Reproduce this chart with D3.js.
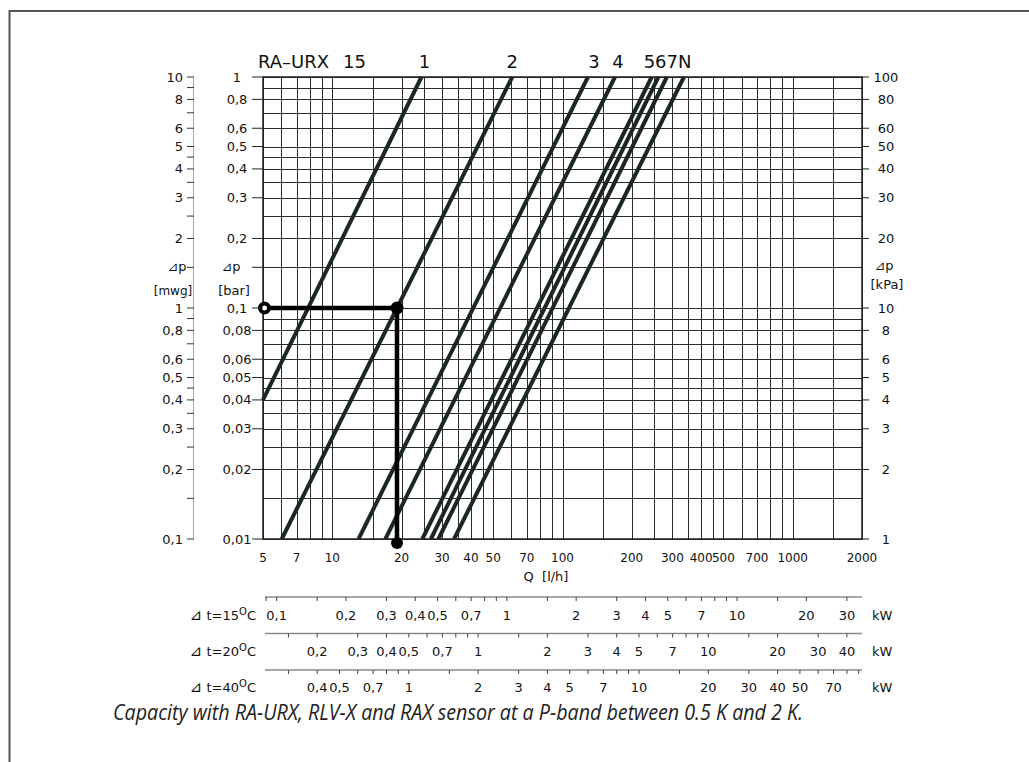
<!DOCTYPE html>
<html><head><meta charset="utf-8">
<script src="https://cdn.jsdelivr.net/npm/d3@7"></script>
<style>body{margin:0;background:#fff} svg{display:block}</style>
</head><body>
<svg id="c" width="1029" height="762"></svg>
<script>
// ---- data ----
const presetNames = ["1","2","3","4","5","6","7","N"];
// each characteristic: [Q l/h, Δp bar] start and end points
const line1 = [[5, 0.04], [24.4, 1]];
const line2 = [[6.03, 0.01], [60.5, 1]];
const line3 = [[13.0, 0.01], [129, 1]];
const line4 = [[17.0, 0.01], [169, 1]];
const line5 = [[24.6, 0.01], [244, 1]];
const line6 = [[26.8, 0.01], [261, 1]];
const line7 = [[28.9, 0.01], [284, 1]];
const lineN = [[33.8, 0.01], [337, 1]];
const exampleLine = [[5, 0.1], [19.1, 0.1], [19.1, 0.0096]];

const qGrid = [5,6,7,8,9,10,15,20,25,30,35,40,45,50,60,70,80,90,100,150,200,250,300,350,400,450,500,600,700,800,900,1000,1500,2000];
const pGrid = [1,0.9,0.8,0.7,0.6,0.5,0.45,0.4,0.35,0.3,0.25,0.2,0.15,0.1,0.09,0.08,0.07,0.06,0.05,0.045,0.04,0.035,0.03,0.025,0.02,0.015,0.01];
const qLabels = [5,7,10,20,30,40,50,70,100,200,300,400,500,700,1000,2000];
const barTicks = [1,0.8,0.6,0.5,0.4,0.3,0.2,0.1,0.08,0.06,0.05,0.04,0.03,0.02,0.01];
const barLabels = ["1","0,8","0,6","0,5","0,4","0,3","0,2","0,1","0,08","0,06","0,05","0,04","0,03","0,02","0,01"];
const mwgLabels = ["10","8","6","5","4","3","2","1","0,8","0,6","0,5","0,4","0,3","0,2","0,1"];
const kpaLabels = ["100","80","60","50","40","30","20","10","8","6","5","4","3","2","1"];

const deltaT = [15, 20, 40];
const kw15 = [0.1,0.2,0.3,0.4,0.5,0.7,1,2,3,4,5,7,10,20,30];
const kw20 = [0.2,0.3,0.4,0.5,0.7,1,2,3,4,5,7,10,20,30,40];
const kw40 = [0.4,0.5,0.7,1,2,3,4,5,7,10,20,30,40,50,70];
const kwMinorMult = [1,1.5,2,3,4,5,6,7,8,9];
const caption = "Capacity with RA-URX, RLV-X and RAX sensor at a P-band between 0.5 K and 2 K.";

// ---- drawing ----
const svg = d3.select("#c");
const F = "DejaVu Sans, sans-serif";
const x = d3.scaleLog().domain([5, 2000]).range([263, 862]);
const y = d3.scaleLog().domain([0.01, 1]).range([539, 77]);
const ink = "#1c2626";

// outer frame
svg.append("path").attr("d", "M9.5,762 V11 H1029").attr("fill","none").attr("stroke","#555").attr("stroke-width",2);

// grid
const g = svg.append("g").attr("stroke", "#2a2a2a").attr("stroke-width", 1).attr("shape-rendering","crispEdges");
g.selectAll("line.v").data(qGrid).join("line").attr("class","v")
  .attr("x1", d => Math.round(x(d))+0.5).attr("x2", d => Math.round(x(d))+0.5)
  .attr("y1", y(1)).attr("y2", y(0.01));
g.selectAll("line.h").data(pGrid).join("line").attr("class","h")
  .attr("y1", d => Math.round(y(d))+0.5).attr("y2", d => Math.round(y(d))+0.5)
  .attr("x1", x(5)).attr("x2", x(2000));
svg.append("rect").attr("x", x(5)).attr("y", y(1)).attr("width", x(2000)-x(5)).attr("height", y(0.01)-y(1))
  .attr("fill","none").attr("stroke","#222").attr("stroke-width",1.5);

// characteristic lines
const lines = [line1,line2,line3,line4,line5,line6,line7,lineN];
const lg = d3.line().x(d => x(d[0])).y(d => y(d[1]));
svg.append("g").selectAll("path").data(lines).join("path")
  .attr("d", lg).attr("fill","none").attr("stroke", ink).attr("stroke-width", 4).attr("stroke-linecap","butt");

// example
svg.append("path").attr("d", lg(exampleLine)).attr("fill","none").attr("stroke","#000").attr("stroke-width",4.5);
svg.append("circle").attr("cx", x(exampleLine[0][0])+1.5).attr("cy", y(exampleLine[0][1])).attr("r",4.5)
  .attr("fill","#fff").attr("stroke","#000").attr("stroke-width",4);
svg.append("circle").attr("cx", x(exampleLine[1][0])).attr("cy", y(exampleLine[1][1])).attr("r",6.5).attr("fill","#000");
svg.append("circle").attr("cx", x(exampleLine[2][0])).attr("cy", y(exampleLine[2][1])).attr("r",6).attr("fill","#000");

// title and preset labels
const tt = svg.append("g").attr("font-family", F).attr("font-size", 18).attr("fill","#111");
tt.append("text").attr("x", 258).attr("y", 68).text("RA\u2013URX");
tt.append("text").attr("x", 343).attr("y", 68).text("15");
tt.append("text").attr("x", x(line1[1][0])+3).attr("y", 68).attr("text-anchor","middle").text(presetNames[0]);
tt.append("text").attr("x", x(line2[1][0])).attr("y", 68).attr("text-anchor","middle").text(presetNames[1]);
tt.append("text").attr("x", x(line3[1][0])+6).attr("y", 68).attr("text-anchor","middle").text(presetNames[2]);
tt.append("text").attr("x", x(line4[1][0])+3).attr("y", 68).attr("text-anchor","middle").text(presetNames[3]);
tt.append("text").attr("x", x(line5[1][0])-8).attr("y", 68).text(presetNames.slice(4).join(""));

// bottom Q axis labels
const tx = svg.append("g").attr("font-family", F).attr("font-size", 13).attr("fill","#111");
tx.selectAll("text.q").data(qLabels).join("text").attr("class","q")
  .attr("x", d => x(d)).attr("y", 562).attr("text-anchor","middle").attr("font-size", 12).text(d => d);
tx.append("text").attr("x", 546).attr("y", 581).attr("text-anchor","middle").style("white-space","pre").text("Q  [l/h]");

// left bar axis
tx.selectAll("text.b").data(barTicks).join("text").attr("class","b")
  .attr("x", 237).attr("y", d => y(d)+4.5).attr("text-anchor","middle").text((d,i) => barLabels[i]);
svg.append("g").attr("stroke","#222").selectAll("line").data(barTicks.concat([0.15])).join("line")
  .attr("x1", 252).attr("x2", x(5)).attr("y1", d => y(d)).attr("y2", d => y(d));

// mwg axis
svg.append("line").attr("x1",193.5).attr("x2",193.5).attr("y1",y(1)).attr("y2",y(0.01)).attr("stroke","#aaa");
svg.append("g").attr("stroke","#333").selectAll("line").data(pGrid).join("line")
  .attr("x1", 187).attr("x2", 194).attr("y1", d => y(d)).attr("y2", d => y(d));
tx.selectAll("text.m").data(barTicks).join("text").attr("class","m")
  .attr("x", 183).attr("y", d => y(d)+4.5).attr("text-anchor","end").text((d,i) => mwgLabels[i]);

// kPa axis
tx.selectAll("text.k").data(barTicks).join("text").attr("class","k")
  .attr("x", 886).attr("y", d => y(d)+4.5).attr("text-anchor","middle").text((d,i) => kpaLabels[i]);
svg.append("g").attr("stroke","#222").selectAll("line").data(barTicks).join("line")
  .attr("x1", x(2000)).attr("x2", 869).attr("y1", d => y(d)).attr("y2", d => y(d));

// Δp unit labels
tx.append("text").attr("x",177).attr("y",271).attr("text-anchor","middle").text("\u22BFp");
tx.append("text").attr("x",173).attr("y",295).attr("text-anchor","middle").attr("font-size",12).text("[mwg]");
tx.append("text").attr("x",231).attr("y",271).attr("text-anchor","middle").text("\u22BFp");
tx.append("text").attr("x",234).attr("y",295).attr("text-anchor","middle").text("[bar]");
tx.append("text").attr("x",884).attr("y",270).attr("text-anchor","middle").text("\u22BFp");
tx.append("text").attr("x",887).attr("y",289).attr("text-anchor","middle").text("[kPa]");

// kW scales
const kwSets = [kw15, kw20, kw40];
const rowLineY = [597, 633.5, 670];
const rowTextY = [619.5, 656, 692];
const fmt = v => String(v).replace(".", ",");
const decades = [0.01, 0.1, 1, 10, 100];
deltaT.forEach((dt, i) => {
  const toX = kw => x(kw * 1000 / (1.163 * dt));
  const row = svg.append("g");
  row.append("line").attr("x1", 265).attr("x2", x(2000)).attr("y1", rowLineY[i]).attr("y2", rowLineY[i])
    .attr("stroke","#8a8a8a").attr("stroke-width",1.5);
  const minors = [];
  decades.forEach(dd => kwMinorMult.forEach(m => { const v = dd*m; const px = toX(v); if (px >= 264 && px <= 862) minors.push(v); }));
  row.selectAll("line.t").data(minors).join("line").attr("class","t")
    .attr("x1", d => toX(d)).attr("x2", d => toX(d)).attr("y1", rowLineY[i]).attr("y2", rowLineY[i]+4)
    .attr("stroke","#444").attr("stroke-width",1);
  row.selectAll("text.l").data(kwSets[i]).join("text").attr("class","l")
    .attr("x", d => toX(d)).attr("y", rowTextY[i]).attr("text-anchor","middle")
    .attr("font-family", F).attr("font-size", 13).attr("fill","#111").text(fmt);
  row.append("text").attr("x", 872).attr("y", rowTextY[i]).attr("font-family", F).attr("font-size", 13).attr("fill","#111").text("kW");
  const lab = row.append("text").attr("x", 256).attr("y", rowTextY[i]).attr("text-anchor","end")
    .attr("font-family", F).attr("font-size", 13).attr("fill","#111");
  lab.append("tspan").attr("font-size", 15).text("\u22BF");
  lab.append("tspan").text(" t=" + dt);
  lab.append("tspan").attr("dy", -5).attr("font-size", 10).text("O");
  lab.append("tspan").attr("dy", 5).text("C");
});

// caption
svg.append("text").attr("x", 113).attr("y", 720).attr("font-family", "Open Sans, Noto Sans, sans-serif")
  .attr("font-style","italic").attr("font-size", 21).attr("fill","#222")
  .attr("textLength", 690).attr("lengthAdjust","spacingAndGlyphs").text(caption);
</script>
</body></html>
